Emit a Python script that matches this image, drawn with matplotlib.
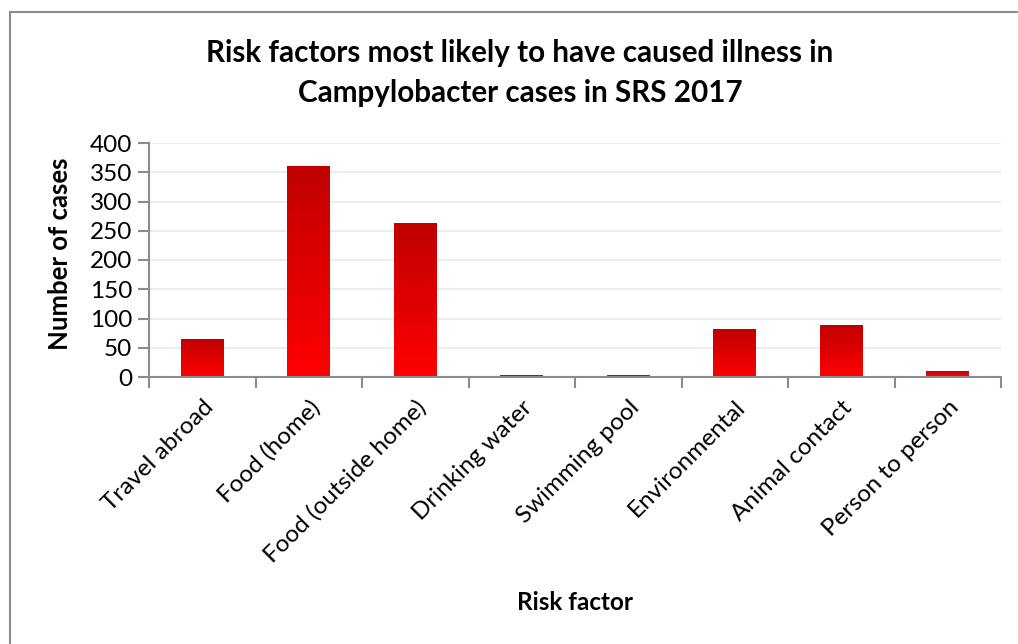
import numpy as np
import matplotlib.pyplot as plt
from matplotlib.colors import LinearSegmentedColormap
from matplotlib.patches import Rectangle

plt.rcParams["font.family"] = ["Lato", "DejaVu Sans"]

categories = ["Travel abroad", "Food (home)", "Food (outside home)", "Drinking water",
              "Swimming pool", "Environmental", "Animal contact", "Person to person"]
cases = [65, 361, 263, 3, 3, 82, 89, 11]

W, H = 1018, 644
fig = plt.figure(figsize=(W / 100, H / 100), dpi=100)
ax = fig.add_axes([149 / W, 1 - 377 / H, (1001 - 149) / W, (377 - 143) / H])

# outer chart border (cut off at right and bottom, as in the picture)
fig.patches.append(Rectangle((10 / W, -0.1), 1.2, 1 - 12 / H + 0.1, transform=fig.transFigure,
                             fill=False, edgecolor="#8c8c8c", linewidth=1.5))

x = np.arange(len(categories))
bars = ax.bar(x, cases, width=0.4, color="none", zorder=2)

# vertical red gradient inside each bar
cmap = LinearSegmentedColormap.from_list("redgrad", ["#ff0000", "#c00000"])
grad = np.linspace(0, 1, 256).reshape(-1, 1)
for b in bars:
    x0, w, h = b.get_x(), b.get_width(), b.get_height()
    im = ax.imshow(grad, cmap=cmap, origin="lower", aspect="auto",
                   extent=(x0, x0 + w, 0, h), zorder=2)
    im.set_clip_path(b)

ax.set_xlim(-0.5, len(categories) - 0.5)
ax.set_ylim(0, 400)
ax.set_yticks(np.arange(0, 401, 50))
ax.yaxis.grid(True, color="#ededed", linewidth=1.5)
ax.set_axisbelow(True)

ax.set_xticks(x)
ax.set_xticklabels(categories, rotation=45, ha="right", va="top", rotation_mode="anchor",
                   fontsize=17.5)
ax.set_xticks(np.arange(-0.5, len(categories)), minor=True)
ax.tick_params(axis="x", which="major", length=0, pad=14)
ax.tick_params(axis="x", which="minor", length=8, width=1.5, color="#8c8c8c", direction="out")
ax.tick_params(axis="y", length=8, width=1.5, color="#8c8c8c", labelsize=17.5, pad=4)

for s in ["top", "right"]:
    ax.spines[s].set_visible(False)
for s in ["left", "bottom"]:
    ax.spines[s].set_color("#8c8c8c")
    ax.spines[s].set_linewidth(1.5)

fig.text(60 / W, 1 - 254 / H, "Number of cases", rotation=90, ha="center", va="center",
         fontsize=18.5, fontweight="bold")
fig.text(575 / W, 1 - 603 / H, "Risk factor", ha="center", va="center",
         fontsize=17.5, fontweight="bold")
fig.text(520 / W, 1 - 53 / H, "Risk factors most likely to have caused illness in",
         ha="center", va="center", fontsize=21.3, fontweight="bold")
fig.text(520 / W, 1 - 93 / H, "Campylobacter cases in SRS 2017",
         ha="center", va="center", fontsize=21.3, fontweight="bold")

fig.savefig("out.png", dpi=100)
